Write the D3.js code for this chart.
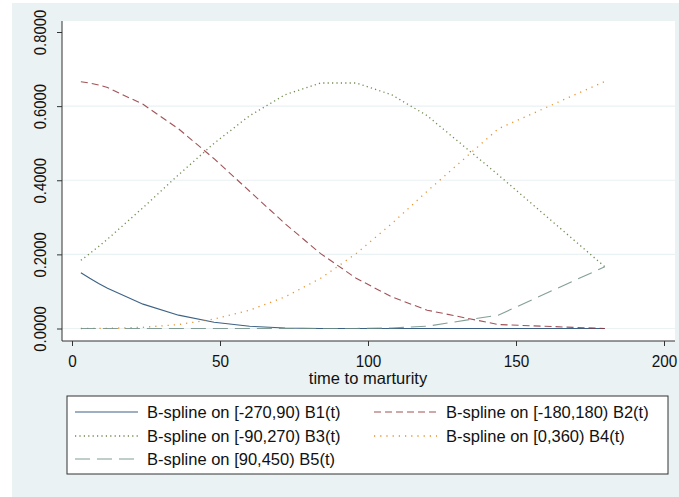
<!DOCTYPE html>
<html>
<head>
<meta charset="utf-8">
<script src="https://cdn.jsdelivr.net/npm/d3@7"></script>
<style>
  html, body { margin: 0; padding: 0; background: #ffffff; }
  svg { display: block; font-family: "Liberation Sans", Arial, sans-serif; }
</style>
</head>
<body>
<svg id="chart" width="679" height="497"></svg>
<script>
// ---- data ----
const maturity = [3, 6, 9, 12, 24, 36, 48, 60, 72, 84, 96, 108, 120, 144, 180];
const b1 = [0.1506, 0.1355, 0.1215, 0.1085, 0.0657, 0.0360, 0.0169, 0.0062, 0.0013, 0.0001, 0, 0, 0, 0, 0];
const b2 = [0.6657, 0.6624, 0.6572, 0.6501, 0.6050, 0.5387, 0.4581, 0.3704, 0.2827, 0.2021, 0.1355, 0.0853, 0.0494, 0.0107, 0];
const b3 = [0.1839, 0.2021, 0.2212, 0.2411, 0.3261, 0.4147, 0.4997, 0.5741, 0.6307, 0.6624, 0.6624, 0.6307, 0.5741, 0.4147, 0.1667];
const b4 = [0.0000, 0.0001, 0.0002, 0.0004, 0.0032, 0.0107, 0.0253, 0.0494, 0.0853, 0.1355, 0.2021, 0.2827, 0.3704, 0.5387, 0.6667];
const b5 = [0, 0, 0, 0, 0, 0, 0, 0, 0, 0, 0.0001, 0.0013, 0.0062, 0.0360, 0.1667];
const seriesNames = [
  "B-spline on [-270,90) B1(t)",
  "B-spline on [-180,180) B2(t)",
  "B-spline on [-90,270) B3(t)",
  "B-spline on [0,360) B4(t)",
  "B-spline on [90,450) B5(t)"
];
const xTicks = [0, 50, 100, 150, 200];
const yTicks = [0, 0.2, 0.4, 0.6, 0.8];
const xTitle = "time to marturity";

// ---- styles ----
const colors = ["#1a476f", "#90353b", "#55752f", "#e37e00", "#6e8e84"];
const dashes = [null, "7,4", "1.2,3.2", "1.2,5", "15,7"];
const widths = [1.1, 1.1, 1.3, 1.3, 1.1];
const FONT = "'Liberation Sans', Arial, sans-serif";

const svg = d3.select("#chart");
const W = 679, H = 497;
// outer graph region
svg.append("rect").attr("x", 12).attr("y", 3).attr("width", W - 12).attr("height", H - 3).attr("fill", "#eaf2f3");

const plot = {left: 62, right: 675, top: 21, bottom: 341};
svg.append("rect").attr("x", plot.left).attr("y", plot.top)
  .attr("width", plot.right - plot.left).attr("height", plot.bottom - plot.top).attr("fill", "#ffffff");

const x = d3.scaleLinear().domain([0, 200]).range([72, 664]);
const y = d3.scaleLinear().domain([0, 0.8]).range([328.5, 32]);

// gridlines
svg.append("g").selectAll("line").data(yTicks.filter(d => d < 0.8)).join("line")
  .attr("x1", plot.left).attr("x2", plot.right)
  .attr("y1", d => y(d)).attr("y2", d => y(d))
  .attr("stroke", "#eaf2f3").attr("stroke-width", 1.2);

// axes
const yAxis = d3.axisLeft(y).tickValues(yTicks).tickFormat(d3.format(".4f")).tickSize(5).tickPadding(8);
const gy = svg.append("g").attr("transform", `translate(${plot.left},0)`).call(yAxis);
gy.select(".domain").remove();
gy.append("line").attr("x1", 0).attr("x2", 0).attr("y1", plot.top).attr("y2", plot.bottom).attr("stroke", "#333");
gy.selectAll(".tick line").attr("stroke", "#333");
gy.selectAll(".tick text")
  .attr("transform", "rotate(-90) scale(0.9,1)")
  .attr("x", 0).attr("y", -22)
  .attr("dy", "0.35em")
  .attr("text-anchor", "middle")
  .attr("font-size", 16.5).attr("fill", "#111")
  .style("font-family", FONT);

const xAxis = d3.axisBottom(x).tickValues(xTicks).tickFormat(d3.format("d")).tickSize(5).tickPadding(4);
const gx = svg.append("g").attr("transform", `translate(0,${plot.bottom})`).call(xAxis);
gx.select(".domain").remove();
gx.append("line").attr("x1", plot.left).attr("x2", plot.right).attr("y1", 0).attr("y2", 0).attr("stroke", "#333");
gx.selectAll(".tick line").attr("stroke", "#333");
gx.selectAll(".tick text")
  .attr("x", 0).attr("y", 26).attr("dy", null)
  .attr("transform", "scale(0.9,1)")
  .attr("font-size", 17).attr("fill", "#111")
  .style("font-family", FONT);

svg.append("text").attr("x", x(100)).attr("y", 384).attr("text-anchor", "middle")
  .attr("font-size", 16.5).attr("fill", "#111").style("font-family", FONT).text(xTitle);

// lines
const all = [b1, b2, b3, b4, b5];
const line = d3.line().x((d, i) => x(maturity[i])).y(d => y(d));
all.forEach((s, k) => {
  svg.append("path").datum(s)
    .attr("d", line)
    .attr("fill", "none")
    .attr("stroke", colors[k])
    .attr("stroke-width", widths[k])
    .attr("stroke-dasharray", dashes[k])
    .attr("opacity", 0.85);
});

// legend
svg.append("rect").attr("x", 67).attr("y", 396).attr("width", 601).attr("height", 78)
  .attr("fill", "#ffffff").attr("stroke", "#333").attr("stroke-width", 1);
const legPos = [[75, 412], [374, 412], [75, 436], [374, 436], [75, 459]];
seriesNames.forEach((name, k) => {
  const [lx, ly] = legPos[k];
  svg.append("line").attr("x1", lx).attr("x2", lx + 63).attr("y1", ly).attr("y2", ly)
    .attr("stroke", colors[k]).attr("stroke-width", widths[k])
    .attr("stroke-dasharray", dashes[k]).attr("opacity", 0.85);
  svg.append("text").attr("x", lx + 72).attr("y", ly).attr("dy", "0.35em")
    .attr("font-size", 16.5).attr("fill", "#111").style("font-family", FONT).text(name);
});
</script>
</body>
</html>
